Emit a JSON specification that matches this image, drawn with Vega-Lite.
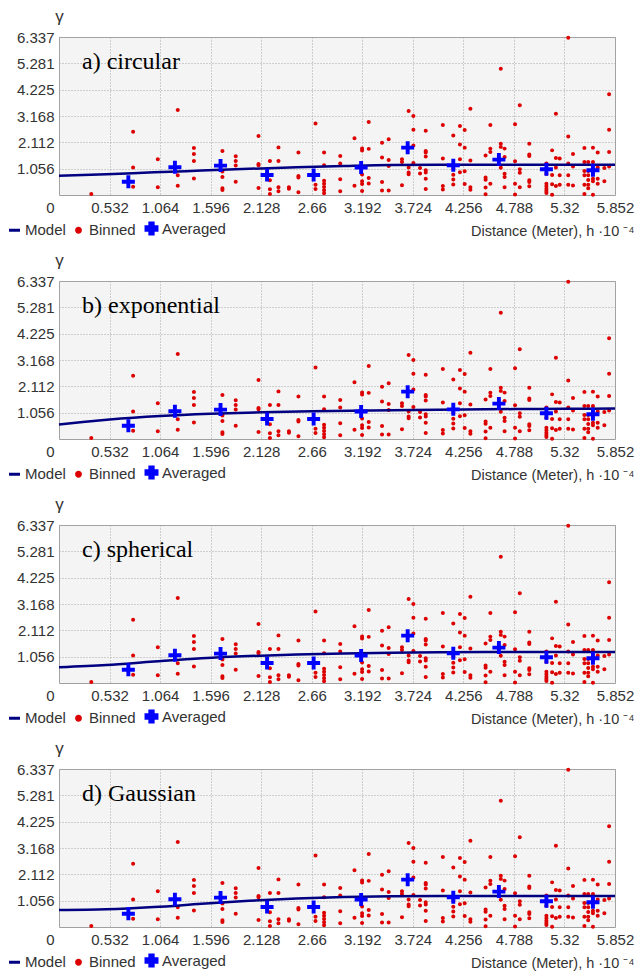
{
  "$schema": "https://vega.github.io/schema/vega-lite/v6.json",
  "padding": {"left": 6, "top": 6, "right": 0, "bottom": 0},
  "background": "white",
  "bounds": "flush",
  "spacing": 86,
  "datasets": {
    "binned": [
      {"h":0.34,"g":0.04},
      {"h":0.78,"g":2.54},{"h":0.78,"g":1.10},{"h":0.78,"g":0.33},
      {"h":1.04,"g":1.43},{"h":1.04,"g":0.31},
      {"h":1.25,"g":3.41},{"h":1.25,"g":0.79},{"h":1.25,"g":0.37},
      {"h":1.42,"g":1.89},{"h":1.42,"g":1.64},{"h":1.42,"g":1.36},{"h":1.42,"g":0.66},
      {"h":1.72,"g":1.76},{"h":1.72,"g":0.94},{"h":1.72,"g":0.72},{"h":1.72,"g":0.27},{"h":1.72,"g":0.20},
      {"h":1.86,"g":1.55},{"h":1.86,"g":1.36},{"h":1.86,"g":1.18},{"h":1.86,"g":0.53},
      {"h":2.10,"g":2.37},{"h":2.10,"g":1.24},{"h":2.10,"g":1.19},{"h":2.10,"g":0.28},
      {"h":2.22,"g":1.36},{"h":2.22,"g":0.59},{"h":2.22,"g":0.23},{"h":2.22,"g":0.04},
      {"h":2.31,"g":1.91},{"h":2.31,"g":1.36},{"h":2.31,"g":0.31},{"h":2.31,"g":0.15},
      {"h":2.42,"g":0.31},{"h":2.42,"g":0.25},
      {"h":2.52,"g":1.70},{"h":2.52,"g":0.76},{"h":2.52,"g":0.70},{"h":2.52,"g":0.11},
      {"h":2.70,"g":2.87},{"h":2.70,"g":0.41},{"h":2.70,"g":0.24},
      {"h":2.79,"g":1.70},{"h":2.79,"g":1.19},{"h":2.79,"g":0.57},{"h":2.79,"g":0.45},{"h":2.79,"g":0.32},{"h":2.79,"g":0.19},{"h":2.79,"g":0.07},
      {"h":2.96,"g":1.56},{"h":2.96,"g":1.26},{"h":2.96,"g":0.63},{"h":2.96,"g":0.15},
      {"h":3.11,"g":2.28},{"h":3.11,"g":0.37},
      {"h":3.19,"g":1.87},{"h":3.19,"g":1.78},{"h":3.19,"g":0.82},{"h":3.19,"g":0.55},{"h":3.19,"g":0.44},{"h":3.19,"g":0.16},
      {"h":3.26,"g":2.93},{"h":3.26,"g":1.85},{"h":3.26,"g":0.68},{"h":3.26,"g":0.46},
      {"h":3.40,"g":2.10},{"h":3.40,"g":1.50},{"h":3.40,"g":0.52},{"h":3.40,"g":0.18},
      {"h":3.47,"g":2.24},{"h":3.47,"g":1.40},{"h":3.47,"g":1.16},{"h":3.47,"g":0.18},
      {"h":3.61,"g":1.43},{"h":3.61,"g":1.32},{"h":3.61,"g":0.39},
      {"h":3.68,"g":3.37},{"h":3.68,"g":1.10},{"h":3.68,"g":0.90},{"h":3.68,"g":0.83},
      {"h":3.73,"g":3.17},{"h":3.73,"g":2.62},{"h":3.73,"g":1.99},{"h":3.73,"g":1.28},
      {"h":3.80,"g":1.08},{"h":3.80,"g":0.86},
      {"h":3.86,"g":2.58},{"h":3.86,"g":1.76},{"h":3.86,"g":1.70},{"h":3.86,"g":1.54},{"h":3.86,"g":0.99},{"h":3.86,"g":0.90},{"h":3.86,"g":0.65},{"h":3.86,"g":0.24},
      {"h":4.04,"g":2.81},{"h":4.04,"g":1.46},{"h":4.04,"g":0.36},{"h":4.04,"g":0.22},
      {"h":4.15,"g":2.39},{"h":4.15,"g":1.06},{"h":4.15,"g":0.81},{"h":4.15,"g":0.62},{"h":4.15,"g":0.42},
      {"h":4.22,"g":2.77},{"h":4.22,"g":2.03},{"h":4.22,"g":1.43},{"h":4.22,"g":0.91},
      {"h":4.27,"g":2.61},{"h":4.27,"g":1.90},{"h":4.27,"g":0.95},{"h":4.27,"g":0.44},
      {"h":4.33,"g":3.46},{"h":4.33,"g":1.38},{"h":4.33,"g":0.31},{"h":4.33,"g":0.21},
      {"h":4.49,"g":1.58},{"h":4.49,"g":0.70},{"h":4.49,"g":0.61},{"h":4.49,"g":0.30},{"h":4.49,"g":0.03},
      {"h":4.54,"g":2.81},{"h":4.54,"g":1.86},{"h":4.54,"g":1.72},{"h":4.54,"g":0.45},
      {"h":4.65,"g":5.06},{"h":4.65,"g":2.06},{"h":4.65,"g":1.93},{"h":4.65,"g":1.09},
      {"h":4.69,"g":1.86},{"h":4.69,"g":1.52},{"h":4.69,"g":0.85},{"h":4.69,"g":0.72},{"h":4.69,"g":0.31},
      {"h":4.80,"g":2.84},{"h":4.80,"g":1.35},{"h":4.80,"g":0.45},{"h":4.80,"g":0.02},
      {"h":4.85,"g":3.60},{"h":4.85,"g":1.03},{"h":4.85,"g":0.89},{"h":4.85,"g":0.31},
      {"h":4.95,"g":2.06},{"h":4.95,"g":1.62},{"h":4.95,"g":1.56},{"h":4.95,"g":0.59},{"h":4.95,"g":0.52},{"h":4.95,"g":0.35},
      {"h":5.13,"g":1.26},{"h":5.13,"g":0.85},{"h":5.13,"g":0.45},{"h":5.13,"g":0.35},{"h":5.13,"g":0.25},{"h":5.13,"g":0.16},{"h":5.13,"g":0.08},
      {"h":5.19,"g":1.79},{"h":5.19,"g":0.80},{"h":5.19,"g":0.43},{"h":5.19,"g":0.01},
      {"h":5.23,"g":3.26},{"h":5.23,"g":1.48},{"h":5.23,"g":1.10},{"h":5.23,"g":0.36},
      {"h":5.27,"g":1.46},{"h":5.27,"g":0.79},{"h":5.27,"g":0.41},
      {"h":5.36,"g":6.31},{"h":5.36,"g":2.35},{"h":5.36,"g":1.26},{"h":5.36,"g":0.79},{"h":5.36,"g":0.41},
      {"h":5.41,"g":1.64},{"h":5.41,"g":1.14},{"h":5.41,"g":0.38},
      {"h":5.53,"g":1.89},{"h":5.53,"g":1.32},{"h":5.53,"g":0.96},{"h":5.53,"g":0.79},{"h":5.53,"g":0.41},{"h":5.53,"g":0.04},
      {"h":5.57,"g":1.32},{"h":5.57,"g":0.96},{"h":5.57,"g":0.79},{"h":5.57,"g":0.60},{"h":5.57,"g":0.41},{"h":5.57,"g":0.27},
      {"h":5.62,"g":1.90},{"h":5.62,"g":1.32},{"h":5.62,"g":0.65},{"h":5.62,"g":0.55},{"h":5.62,"g":0.01},
      {"h":5.67,"g":1.70},{"h":5.67,"g":1.10},{"h":5.67,"g":0.65},{"h":5.67,"g":0.45},
      {"h":5.74,"g":1.08},{"h":5.74,"g":0.55},
      {"h":5.79,"g":4.04},{"h":5.79,"g":2.62},{"h":5.79,"g":1.72},{"h":5.79,"g":1.14}
    ],
    "averaged": [
      {"h":0.73,"g":0.53},{"h":1.22,"g":1.11},{"h":1.70,"g":1.18},{"h":2.19,"g":0.80},
      {"h":2.68,"g":0.80},{"h":3.18,"g":1.10},{"h":3.67,"g":1.90},{"h":4.15,"g":1.19},
      {"h":4.63,"g":1.42},{"h":5.13,"g":1.03},{"h":5.62,"g":0.99}
    ],
    "circular": [
      {"h":0,"g":0.77},{"h":0.5,"g":0.83},{"h":1,"g":0.91},{"h":1.5,"g":0.98},{"h":2,"g":1.05},
      {"h":2.5,"g":1.11},{"h":3,"g":1.16},{"h":3.5,"g":1.20},{"h":4,"g":1.21},{"h":4.5,"g":1.21},{"h":5.852,"g":1.21}
    ],
    "exponential": [
      {"h":0,"g":0.58},{"h":0.25,"g":0.68},{"h":0.532,"g":0.78},{"h":1.064,"g":0.92},{"h":1.596,"g":1.01},
      {"h":2.128,"g":1.07},{"h":2.66,"g":1.11},{"h":3.192,"g":1.14},{"h":3.724,"g":1.16},{"h":4.256,"g":1.18},
      {"h":4.788,"g":1.20},{"h":5.32,"g":1.21},{"h":5.852,"g":1.22}
    ],
    "spherical": [
      {"h":0,"g":0.63},{"h":0.5,"g":0.72},{"h":1,"g":0.86},{"h":1.5,"g":0.99},{"h":2,"g":1.08},
      {"h":2.5,"g":1.14},{"h":3,"g":1.18},{"h":3.5,"g":1.21},{"h":4,"g":1.23},{"h":4.5,"g":1.24},{"h":5.852,"g":1.24}
    ],
    "gaussian": [
      {"h":0,"g":0.68},{"h":0.5,"g":0.71},{"h":1,"g":0.80},{"h":1.5,"g":0.93},{"h":2,"g":1.05},
      {"h":2.5,"g":1.14},{"h":3,"g":1.20},{"h":3.5,"g":1.23},{"h":4,"g":1.24},{"h":5.852,"g":1.24}
    ]
  },
  "resolve": {
    "scale": {"color": "independent", "shape": "independent"},
    "legend": {"color": "independent", "shape": "independent"}
  },
  "vconcat": [
    {
      "width": 556, "height": 158,
      "title": {"text": "a) circular", "anchor": "start", "frame": "group", "dx": 23, "dy": 86, "baseline": "alphabetic", "offset": 0},
      "encoding": {
        "x": {"field": "h", "type": "quantitative", "scale": {"domain": [0, 5.852], "nice": false, "zero": false},
          "axis": {"values": [0, 0.532, 1.064, 1.596, 2.128, 2.66, 3.192, 3.724, 4.256, 4.788, 5.32, 5.852], "format": ".3~f",
            "title": "Distance (Meter), h ·10 ⁻⁴", "titleX": 575, "titleY": 40, "titleAlign": "right", "titleBaseline": "alphabetic",
            "labelOffset": {"condition": {"test": "datum.value == 0", "value": -9}, "value": 0}}},
        "y": {"field": "g", "type": "quantitative", "scale": {"domain": [0, 6.337], "nice": false, "zero": false},
          "axis": {"values": [1.056, 2.112, 3.168, 4.225, 5.281, 6.337], "format": ".3~f",
            "title": "γ", "titleAngle": 0, "titleX": 0, "titleY": -21, "titleAlign": "center", "titleBaseline": "middle", "titleFontSize": 17}}
      },
      "layer": [
        {"data": {"name": "binned"}, "mark": {"type": "point", "filled": true, "size": 130, "opacity": 1},
          "encoding": {
            "color": {"datum": "Binned", "type": "nominal",
              "scale": {"domain": ["Model", "Binned", "Averaged"], "range": ["#000080", "#dd0000", "#0000ff"]},
              "legend": {"orient": "none", "legendX": -52, "legendY": 184, "direction": "horizontal", "title": null, "symbolSize": 120, "labelOffset": 3, "columnPadding": 4, "symbolStrokeWidth": 3}},
            "shape": {"datum": "Binned", "type": "nominal",
              "scale": {"domain": ["Model", "Binned", "Averaged"], "range": ["stroke", "M0.35,0A0.35,0.35,0,1,1,-0.35,0A0.35,0.35,0,1,1,0.35,0Z", "M-1,-0.3H-0.3V-1H0.3V-0.3H1V0.3H0.3V1H-0.3V0.3H-1Z"]},
              "legend": {"orient": "none", "legendX": -52, "legendY": 184, "direction": "horizontal", "title": null, "symbolSize": 120, "labelOffset": 3, "columnPadding": 4, "symbolStrokeWidth": 3}}
          }},
        {"data": {"name": "circular"}, "mark": {"type": "line", "strokeWidth": 2.5, "interpolate": "monotone"},
          "encoding": {"color": {"datum": "Model", "type": "nominal"}}},
        {"data": {"name": "averaged"}, "mark": {"type": "point", "filled": true, "size": 169, "opacity": 1},
          "encoding": {"color": {"datum": "Averaged", "type": "nominal"}, "shape": {"datum": "Averaged", "type": "nominal"}}}
      ]
    },
    {
      "width": 556, "height": 158,
      "title": {"text": "b) exponential", "anchor": "start", "frame": "group", "dx": 23, "dy": 86, "baseline": "alphabetic", "offset": 0},
      "encoding": {
        "x": {"field": "h", "type": "quantitative", "scale": {"domain": [0, 5.852], "nice": false, "zero": false},
          "axis": {"values": [0, 0.532, 1.064, 1.596, 2.128, 2.66, 3.192, 3.724, 4.256, 4.788, 5.32, 5.852], "format": ".3~f",
            "title": "Distance (Meter), h ·10 ⁻⁴", "titleX": 575, "titleY": 40, "titleAlign": "right", "titleBaseline": "alphabetic",
            "labelOffset": {"condition": {"test": "datum.value == 0", "value": -9}, "value": 0}}},
        "y": {"field": "g", "type": "quantitative", "scale": {"domain": [0, 6.337], "nice": false, "zero": false},
          "axis": {"values": [1.056, 2.112, 3.168, 4.225, 5.281, 6.337], "format": ".3~f",
            "title": "γ", "titleAngle": 0, "titleX": 0, "titleY": -21, "titleAlign": "center", "titleBaseline": "middle", "titleFontSize": 17}}
      },
      "layer": [
        {"data": {"name": "binned"}, "mark": {"type": "point", "filled": true, "size": 130, "opacity": 1},
          "encoding": {
            "color": {"datum": "Binned", "type": "nominal",
              "scale": {"domain": ["Model", "Binned", "Averaged"], "range": ["#000080", "#dd0000", "#0000ff"]},
              "legend": {"orient": "none", "legendX": -52, "legendY": 184, "direction": "horizontal", "title": null, "symbolSize": 120, "labelOffset": 3, "columnPadding": 4, "symbolStrokeWidth": 3}},
            "shape": {"datum": "Binned", "type": "nominal",
              "scale": {"domain": ["Model", "Binned", "Averaged"], "range": ["stroke", "M0.35,0A0.35,0.35,0,1,1,-0.35,0A0.35,0.35,0,1,1,0.35,0Z", "M-1,-0.3H-0.3V-1H0.3V-0.3H1V0.3H0.3V1H-0.3V0.3H-1Z"]},
              "legend": {"orient": "none", "legendX": -52, "legendY": 184, "direction": "horizontal", "title": null, "symbolSize": 120, "labelOffset": 3, "columnPadding": 4, "symbolStrokeWidth": 3}}
          }},
        {"data": {"name": "exponential"}, "mark": {"type": "line", "strokeWidth": 2.5, "interpolate": "monotone"},
          "encoding": {"color": {"datum": "Model", "type": "nominal"}}},
        {"data": {"name": "averaged"}, "mark": {"type": "point", "filled": true, "size": 169, "opacity": 1},
          "encoding": {"color": {"datum": "Averaged", "type": "nominal"}, "shape": {"datum": "Averaged", "type": "nominal"}}}
      ]
    },
    {
      "width": 556, "height": 158,
      "title": {"text": "c) spherical", "anchor": "start", "frame": "group", "dx": 23, "dy": 86, "baseline": "alphabetic", "offset": 0},
      "encoding": {
        "x": {"field": "h", "type": "quantitative", "scale": {"domain": [0, 5.852], "nice": false, "zero": false},
          "axis": {"values": [0, 0.532, 1.064, 1.596, 2.128, 2.66, 3.192, 3.724, 4.256, 4.788, 5.32, 5.852], "format": ".3~f",
            "title": "Distance (Meter), h ·10 ⁻⁴", "titleX": 575, "titleY": 40, "titleAlign": "right", "titleBaseline": "alphabetic",
            "labelOffset": {"condition": {"test": "datum.value == 0", "value": -9}, "value": 0}}},
        "y": {"field": "g", "type": "quantitative", "scale": {"domain": [0, 6.337], "nice": false, "zero": false},
          "axis": {"values": [1.056, 2.112, 3.168, 4.225, 5.281, 6.337], "format": ".3~f",
            "title": "γ", "titleAngle": 0, "titleX": 0, "titleY": -21, "titleAlign": "center", "titleBaseline": "middle", "titleFontSize": 17}}
      },
      "layer": [
        {"data": {"name": "binned"}, "mark": {"type": "point", "filled": true, "size": 130, "opacity": 1},
          "encoding": {
            "color": {"datum": "Binned", "type": "nominal",
              "scale": {"domain": ["Model", "Binned", "Averaged"], "range": ["#000080", "#dd0000", "#0000ff"]},
              "legend": {"orient": "none", "legendX": -52, "legendY": 184, "direction": "horizontal", "title": null, "symbolSize": 120, "labelOffset": 3, "columnPadding": 4, "symbolStrokeWidth": 3}},
            "shape": {"datum": "Binned", "type": "nominal",
              "scale": {"domain": ["Model", "Binned", "Averaged"], "range": ["stroke", "M0.35,0A0.35,0.35,0,1,1,-0.35,0A0.35,0.35,0,1,1,0.35,0Z", "M-1,-0.3H-0.3V-1H0.3V-0.3H1V0.3H0.3V1H-0.3V0.3H-1Z"]},
              "legend": {"orient": "none", "legendX": -52, "legendY": 184, "direction": "horizontal", "title": null, "symbolSize": 120, "labelOffset": 3, "columnPadding": 4, "symbolStrokeWidth": 3}}
          }},
        {"data": {"name": "spherical"}, "mark": {"type": "line", "strokeWidth": 2.5, "interpolate": "monotone"},
          "encoding": {"color": {"datum": "Model", "type": "nominal"}}},
        {"data": {"name": "averaged"}, "mark": {"type": "point", "filled": true, "size": 169, "opacity": 1},
          "encoding": {"color": {"datum": "Averaged", "type": "nominal"}, "shape": {"datum": "Averaged", "type": "nominal"}}}
      ]
    },
    {
      "width": 556, "height": 158,
      "title": {"text": "d) Gaussian", "anchor": "start", "frame": "group", "dx": 23, "dy": 86, "baseline": "alphabetic", "offset": 0},
      "encoding": {
        "x": {"field": "h", "type": "quantitative", "scale": {"domain": [0, 5.852], "nice": false, "zero": false},
          "axis": {"values": [0, 0.532, 1.064, 1.596, 2.128, 2.66, 3.192, 3.724, 4.256, 4.788, 5.32, 5.852], "format": ".3~f",
            "title": "Distance (Meter), h ·10 ⁻⁴", "titleX": 575, "titleY": 40, "titleAlign": "right", "titleBaseline": "alphabetic",
            "labelOffset": {"condition": {"test": "datum.value == 0", "value": -9}, "value": 0}}},
        "y": {"field": "g", "type": "quantitative", "scale": {"domain": [0, 6.337], "nice": false, "zero": false},
          "axis": {"values": [1.056, 2.112, 3.168, 4.225, 5.281, 6.337], "format": ".3~f",
            "title": "γ", "titleAngle": 0, "titleX": 0, "titleY": -21, "titleAlign": "center", "titleBaseline": "middle", "titleFontSize": 17}}
      },
      "layer": [
        {"data": {"name": "binned"}, "mark": {"type": "point", "filled": true, "size": 130, "opacity": 1},
          "encoding": {
            "color": {"datum": "Binned", "type": "nominal",
              "scale": {"domain": ["Model", "Binned", "Averaged"], "range": ["#000080", "#dd0000", "#0000ff"]},
              "legend": {"orient": "none", "legendX": -52, "legendY": 184, "direction": "horizontal", "title": null, "symbolSize": 120, "labelOffset": 3, "columnPadding": 4, "symbolStrokeWidth": 3}},
            "shape": {"datum": "Binned", "type": "nominal",
              "scale": {"domain": ["Model", "Binned", "Averaged"], "range": ["stroke", "M0.35,0A0.35,0.35,0,1,1,-0.35,0A0.35,0.35,0,1,1,0.35,0Z", "M-1,-0.3H-0.3V-1H0.3V-0.3H1V0.3H0.3V1H-0.3V0.3H-1Z"]},
              "legend": {"orient": "none", "legendX": -52, "legendY": 184, "direction": "horizontal", "title": null, "symbolSize": 120, "labelOffset": 3, "columnPadding": 4, "symbolStrokeWidth": 3}}
          }},
        {"data": {"name": "gaussian"}, "mark": {"type": "line", "strokeWidth": 2.5, "interpolate": "monotone"},
          "encoding": {"color": {"datum": "Model", "type": "nominal"}}},
        {"data": {"name": "averaged"}, "mark": {"type": "point", "filled": true, "size": 169, "opacity": 1},
          "encoding": {"color": {"datum": "Averaged", "type": "nominal"}, "shape": {"datum": "Averaged", "type": "nominal"}}}
      ]
    }
  ],
  "config": {
    "view": {"fill": "#f4f4f4", "stroke": "#a0a0a0", "strokeWidth": 1},
    "axis": {"labelFont": "Liberation Sans", "labelFontSize": 15, "labelColor": "#333333",
      "titleFont": "Liberation Sans", "titleFontSize": 14.5, "titleFontWeight": "normal", "titleColor": "#333333",
      "ticks": false, "domain": false, "grid": true, "gridColor": "#a8a8a8", "gridDash": [1, 2], "gridWidth": 1, "gridOpacity": 1,
      "labelFlush": false, "labelOverlap": false, "labelPadding": 5},
    "legend": {"labelFont": "Liberation Sans", "labelFontSize": 15, "labelColor": "#333333"},
    "title": {"font": "Liberation Serif", "fontSize": 24, "fontWeight": "normal", "color": "#000000"}
  }
}
